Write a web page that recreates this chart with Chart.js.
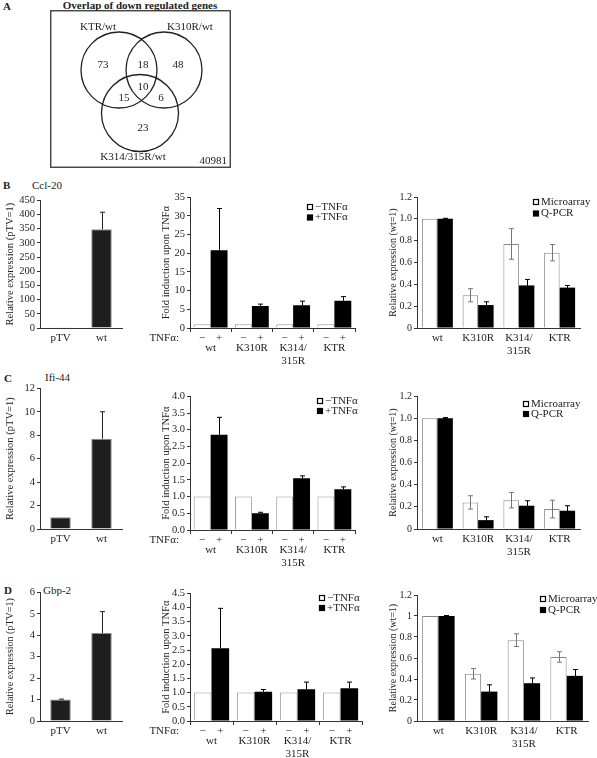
<!DOCTYPE html>
<html>
<head>
<meta charset="utf-8">
<script src="https://cdn.jsdelivr.net/npm/chart.js@4.4.1/dist/chart.umd.min.js"></script>
<style>
    body { margin: 0; background: #fff; }
    #page { position: relative; width: 597px; height: 758px; overflow: hidden; font-family: "Liberation Serif", serif; color: #222; }
    #page canvas { position: absolute; }
    .lbl { position: absolute; font-size: 11px; line-height: 12px; white-space: nowrap; }
    .panel { font-weight: bold; }
</style>
</head>
<body>
<div id="page">
    <div class="lbl panel" style="left:3px;top:0px">A</div>
    <div class="lbl panel" style="left:40px;top:-1px;width:200px;text-align:center">Overlap of down regulated genes</div>
    <div class="lbl panel" style="left:3px;top:179px">B</div>
    <div class="lbl" id="gene0" style="left:32px;top:179px"></div>
    <div class="lbl panel" style="left:4px;top:372px">C</div>
    <div class="lbl" id="gene1" style="left:45px;top:371px"></div>
    <div class="lbl panel" style="left:4px;top:584px">D</div>
    <div class="lbl" id="gene2" style="left:43px;top:584px"></div>
</div>
<script>
// venn diagram of down regulated genes
const vennSets = ["KTR/wt", "K310R/wt", "K314/315R/wt"];
// KTR only, KTR+K310R, K310R only, KTR+K314, all three, K310R+K314, K314 only
const vennCounts = [73, 18, 48, 15, 10, 6, 23];
const vennTotal = 40981;

const genes = ["Ccl-20", "Ifi-44", "Gbp-2"];
const vectorCats = ["pTV", "wt"];
const mutantCats = ["wt", "K310R", ["K314/", "315R"], "KTR"];
const treatmentSigns = ["\u2212", "+"];

// relative expression, pTV = 1
const ccl20Vector = [1, 348];
const ccl20VectorErr = [0, 60];
const ifi44Vector = [1, 7.7];
const ifi44VectorErr = [0, 2.3];
const gbp2Vector = [1, 4.1];
const gbp2VectorErr = [0.02, 1.0];

// fold induction upon TNFa
const ccl20Minus = [1, 1, 1, 1];
const ccl20Plus = [20.8, 5.9, 6.1, 7.3];
const ccl20PlusErr = [11.2, 0.5, 1.1, 1.1];
const ifi44Minus = [1, 1, 1, 1];
const ifi44Plus = [2.85, 0.5, 1.55, 1.22];
const ifi44PlusErr = [0.52, 0.03, 0.07, 0.07];
const gbp2Minus = [1, 1, 1, 1];
const gbp2Plus = [2.56, 1.03, 1.12, 1.15];
const gbp2PlusErr = [1.41, 0.08, 0.25, 0.22];

// microarray vs Q-PCR, wt = 1
const ccl20Micro = [1, 0.30, 0.77, 0.69];
const ccl20MicroErr = [0, 0.06, 0.14, 0.075];
const ccl20Qpcr = [1, 0.21, 0.39, 0.37];
const ccl20QpcrErr = [0.005, 0.03, 0.055, 0.02];
const ifi44Micro = [1, 0.24, 0.26, 0.18];
const ifi44MicroErr = [0, 0.06, 0.07, 0.08];
const ifi44Qpcr = [1, 0.08, 0.21, 0.165];
const ifi44QpcrErr = [0.005, 0.03, 0.045, 0.045];
const gbp2Micro = [1, 0.45, 0.77, 0.61];
const gbp2MicroErr = [0, 0.05, 0.06, 0.05];
const gbp2Qpcr = [1, 0.28, 0.36, 0.43];
const gbp2QpcrErr = [0.005, 0.065, 0.05, 0.06];

// tick labels
const ccl20VectorTicks = ["0", "50", "100", "150", "200", "250", "300", "350", "400", "450"];
const ifi44VectorTicks = ["0", "2", "4", "6", "8", "10", "12"];
const gbp2VectorTicks = ["0", "1", "2", "3", "4", "5", "6"];
const ccl20FoldTicks = ["0", "5", "10", "15", "20", "25", "30", "35"];
const ifi44FoldTicks = ["0.0", "0.5", "1.0", "1.5", "2.0", "2.5", "3.0", "3.5", "4.0"];
const gbp2FoldTicks = ["0.0", "0.5", "1.0", "1.5", "2.0", "2.5", "3.0", "3.5", "4.0", "4.5"];
const ccl20WtTicks = ["0", "0.2", "0.4", "0.6", "0.8", "1.0", "1.2"];
const ifi44WtTicks = ["0", "0.2", "0.4", "0.6", "0.8", "1.0", "1.2"];
const gbp2WtTicks = ["0", "0.2", "0.4", "0.6", "0.8", "1", "1.2"];

const family = "Liberation Serif";
const textColor = "#222";
const axisColor = "#333";
const page = document.getElementById("page");

genes.forEach((g, i) => {
    document.getElementById("gene" + i).textContent = g;
});

// error bars drawn from the y scale
const errorBars = {
    id: "errorBars",
    afterDatasetsDraw(chart) {
        const ctx = chart.ctx;
        const y = chart.scales.y;
        chart.data.datasets.forEach((ds, di) => {
            if (!ds.errors) return;
            chart.getDatasetMeta(di).data.forEach((bar, i) => {
                const err = ds.errors[i];
                if (!err) return;
                const v = ds.data[i];
                const yTop = y.getPixelForValue(v + err);
                const yLow = y.getPixelForValue(ds.errorBoth ? v - err : v);
                const x = Math.round(bar.x) + 0.5;
                ctx.save();
                ctx.strokeStyle = ds.errorColor;
                ctx.lineWidth = 1;
                ctx.beginPath();
                ctx.moveTo(x, yTop);
                ctx.lineTo(x, yLow);
                ctx.moveTo(x - 2.5, yTop);
                ctx.lineTo(x + 2.5, yTop);
                if (ds.errorBoth) {
                    ctx.moveTo(x - 2.5, yLow);
                    ctx.lineTo(x + 2.5, yLow);
                }
                ctx.stroke();
                ctx.restore();
            });
        });
    }
};

// small square legend inside the plot
const boxLegend = {
    id: "boxLegend",
    afterDraw(chart, args, opts) {
        const ctx = chart.ctx;
        ctx.save();
        ctx.font = "11px " + family;
        ctx.textBaseline = "middle";
        chart.data.datasets.forEach((ds, i) => {
            const x = opts.x;
            const y = opts.y + i * opts.step;
            ctx.fillStyle = ds.backgroundColor;
            ctx.fillRect(x - 2.5, y - 2.5, 5, 5);
            ctx.strokeStyle = "#000";
            ctx.lineWidth = 1.2;
            ctx.strokeRect(x - 2.5, y - 2.5, 5, 5);
            ctx.fillStyle = textColor;
            ctx.fillText(ds.label, x + 5, y);
        });
        ctx.restore();
    }
};

// the -/+ row under the TNFa charts
const signRow = {
    id: "signRow",
    afterDraw(chart, args, opts) {
        const ctx = chart.ctx;
        const area = chart.chartArea;
        const y = area.bottom + opts.dy;
        ctx.save();
        ctx.font = "11px " + family;
        ctx.fillStyle = textColor;
        ctx.textBaseline = "middle";
        ctx.textAlign = "center";
        chart.data.datasets.forEach((ds, di) => {
            chart.getDatasetMeta(di).data.forEach(bar => {
                ctx.fillText(treatmentSigns[di], bar.x, y);
            });
        });
        ctx.textAlign = "right";
        ctx.fillText("TNF\u03b1:", area.left - 11, y);
        ctx.restore();
    }
};

function buildBars(spec) {
    const canvas = document.createElement("canvas");
    const top = spec.plotTop - 8;
    canvas.width = spec.right - spec.left;
    canvas.height = spec.plotBottom + spec.axisH - top;
    canvas.style.left = spec.left + "px";
    canvas.style.top = top + "px";
    page.appendChild(canvas);
    const tickValues = spec.ticks.map(Number);
    const legend = spec.legend
        ? { x: spec.legend.x - spec.left, y: spec.legend.y - top, step: spec.legend.step }
        : false;

    new Chart(canvas, {
        type: "bar",
        data: { labels: spec.labels, datasets: spec.datasets },
        options: {
            responsive: false,
            animation: false,
            events: [],
            layout: { padding: { top: 8, right: spec.right - spec.x1, left: 0, bottom: 0 } },
            plugins: {
                legend: { display: false },
                tooltip: { enabled: false },
                boxLegend: legend,
                signRow: spec.signs ? { dy: 10 } : false
            },
            scales: {
                x: {
                    afterFit: s => { s.height = spec.axisH; },
                    grid: { display: true, drawOnChartArea: false, drawTicks: !!spec.signs, tickLength: 4, color: axisColor, offset: true },
                    border: { color: axisColor, width: 1 },
                    ticks: { color: textColor, font: { family: family, size: 11, lineHeight: 1.15 }, padding: spec.labelPad, maxRotation: 0, autoSkip: false }
                },
                y: {
                    min: 0,
                    max: tickValues[tickValues.length - 1],
                    afterFit: s => { s.width = spec.x0 - spec.left; },
                    afterBuildTicks: s => { s.ticks = tickValues.map(v => ({ value: v })); },
                    grid: { drawOnChartArea: false, tickLength: 3, color: axisColor },
                    border: { color: axisColor, width: 1 },
                    ticks: { color: textColor, font: { family: family, size: spec.tickSize }, padding: 2, autoSkip: false, callback: (v, i) => spec.ticks[i] },
                    title: { display: true, text: spec.yTitle, color: textColor, font: { family: family, size: spec.titleSize }, padding: { top: spec.titlePad, bottom: 0 } }
                }
            }
        },
        plugins: [errorBars, boxLegend, signRow]
    });
}

function vectorSet(values, errors) {
    return [{
        label: "expression",
        data: values,
        errors: errors,
        errorColor: "#222",
        backgroundColor: "#1e1e1e",
        borderColor: "#8a8a8a",
        borderWidth: 1,
        barPercentage: 0.5,
        categoryPercentage: 1
    }];
}

function foldSets(minus, plus, plusErr) {
    return [{
        label: "\u2212TNF\u03b1",
        data: minus,
        backgroundColor: "#fff",
        borderColor: "#999",
        borderWidth: 1,
        barPercentage: 1,
        categoryPercentage: 0.82
    }, {
        label: "+TNF\u03b1",
        data: plus,
        errors: plusErr,
        errorColor: "#000",
        backgroundColor: "#000",
        borderColor: "#000",
        borderWidth: 0,
        barPercentage: 1,
        categoryPercentage: 0.82
    }];
}

function wtSets(micro, microErr, qpcr, qpcrErr) {
    return [{
        label: "Microarray",
        data: micro,
        errors: microErr,
        errorBoth: true,
        errorColor: "#777",
        backgroundColor: "#fff",
        borderColor: "#888",
        borderWidth: 1,
        barPercentage: 1,
        categoryPercentage: 0.76
    }, {
        label: "Q-PCR",
        data: qpcr,
        errors: qpcrErr,
        errorBoth: true,
        errorColor: "#000",
        backgroundColor: "#000",
        borderColor: "#000",
        borderWidth: 0,
        barPercentage: 1,
        categoryPercentage: 0.76
    }];
}

// row layout: plot top / bottom pixel of each chart
const rows = [
    { vec: [200, 328], fold: [197, 328], wt: [197, 328], foldX1: 355, wtX1: 580, vecTitle: 10.5 },
    { vec: [388, 529], fold: [396, 530], wt: [396, 529], foldX1: 355, wtX1: 580, vecTitle: 10.5 },
    { vec: [592, 721], fold: [593, 721], wt: [595, 721], foldX1: 362, wtX1: 588, vecTitle: 10 }
];
const vecData = [[ccl20Vector, ccl20VectorErr, ccl20VectorTicks], [ifi44Vector, ifi44VectorErr, ifi44VectorTicks], [gbp2Vector, gbp2VectorErr, gbp2VectorTicks]];
const foldData = [[ccl20Minus, ccl20Plus, ccl20PlusErr, ccl20FoldTicks], [ifi44Minus, ifi44Plus, ifi44PlusErr, ifi44FoldTicks], [gbp2Minus, gbp2Plus, gbp2PlusErr, gbp2FoldTicks]];
const wtData = [[ccl20Micro, ccl20MicroErr, ccl20Qpcr, ccl20QpcrErr, ccl20WtTicks], [ifi44Micro, ifi44MicroErr, ifi44Qpcr, ifi44QpcrErr, ifi44WtTicks], [gbp2Micro, gbp2MicroErr, gbp2Qpcr, gbp2QpcrErr, gbp2WtTicks]];
const foldLegends = [{ x: 310, y: 207, step: 10.5 }, { x: 320, y: 401, step: 10 }, { x: 322, y: 598, step: 10 }];
const wtLegends = [{ x: 536, y: 202, step: 11.5 }, { x: 526, y: 404, step: 10 }, { x: 543, y: 599, step: 11 }];

rows.forEach((r, i) => {
    buildBars({
        left: 0, x0: 40, x1: 122, right: 132,
        plotTop: r.vec[0], plotBottom: r.vec[1], axisH: 20, labelPad: 4, titlePad: 4,
        tickSize: 10.5, titleSize: r.vecTitle,
        labels: vectorCats,
        datasets: vectorSet(vecData[i][0], vecData[i][1]),
        ticks: vecData[i][2],
        yTitle: "Relative expression (pTV=1)"
    });
    buildBars({
        left: 148, x0: 190, x1: r.foldX1, right: 372,
        plotTop: r.fold[0], plotBottom: r.fold[1], axisH: 44, labelPad: 10, titlePad: 12,
        tickSize: 10.5, titleSize: 10.5,
        labels: mutantCats,
        datasets: foldSets(foldData[i][0], foldData[i][1], foldData[i][2]),
        ticks: foldData[i][3],
        yTitle: "Fold induction upon TNF\u03b1",
        legend: foldLegends[i],
        signs: true
    });
    buildBars({
        left: 383, x0: 417, x1: r.wtX1, right: 597,
        plotTop: r.wt[0], plotBottom: r.wt[1], axisH: 32, labelPad: 4, titlePad: 4.5,
        tickSize: 10, titleSize: 10,
        labels: mutantCats,
        datasets: wtSets(wtData[i][0], wtData[i][1], wtData[i][2], wtData[i][3]),
        ticks: wtData[i][4],
        yTitle: "Relative expression (wt=1)",
        legend: wtLegends[i]
    });
});

// venn: circles as bubbles on a pixel-sized scale
const vennCanvas = document.createElement("canvas");
vennCanvas.width = 181;
vennCanvas.height = 158;
vennCanvas.style.left = "50px";
vennCanvas.style.top = "10px";
page.appendChild(vennCanvas);

const vennCircles = [{ x: 69, y: 60, r: 38 }, { x: 114, y: 60, r: 38 }, { x: 90, y: 103, r: 38.5 }];
const vennSetPos = [[48, 17], [140, 17], [83, 147]];
const vennCountPos = [[53, 55], [93, 55], [128, 55], [74, 88], [93, 77], [111, 88], [93, 118]];

const vennText = {
    id: "vennText",
    afterDraw(chart) {
        const ctx = chart.ctx;
        const x = chart.scales.x;
        const y = chart.scales.y;
        ctx.save();
        ctx.strokeStyle = "#333";
        ctx.lineWidth = 1.3;
        ctx.strokeRect(0.75, 0.75, chart.width - 1.5, chart.height - 1.5);
        ctx.font = "11px " + family;
        ctx.fillStyle = textColor;
        ctx.textAlign = "center";
        ctx.textBaseline = "middle";
        vennSets.forEach((s, i) => {
            ctx.fillText(s, x.getPixelForValue(vennSetPos[i][0]), y.getPixelForValue(vennSetPos[i][1]));
        });
        vennCounts.forEach((c, i) => {
            ctx.fillText(String(c), x.getPixelForValue(vennCountPos[i][0]), y.getPixelForValue(vennCountPos[i][1]));
        });
        ctx.textAlign = "right";
        ctx.fillText(String(vennTotal), x.getPixelForValue(177), y.getPixelForValue(151));
        ctx.restore();
    }
};

new Chart(vennCanvas, {
    type: "bubble",
    data: {
        datasets: [{
            label: "sets",
            data: vennCircles,
            backgroundColor: "rgba(0,0,0,0)",
            borderColor: "#222",
            borderWidth: 1.3,
            clip: false
        }]
    },
    options: {
        responsive: false,
        animation: false,
        events: [],
        layout: { padding: 0, autoPadding: false },
        plugins: { legend: { display: false }, tooltip: { enabled: false } },
        scales: {
            x: { display: false, min: 0, max: 181 },
            y: { display: false, min: 0, max: 158, reverse: true }
        }
    },
    plugins: [vennText]
});
</script>
</body>
</html>
